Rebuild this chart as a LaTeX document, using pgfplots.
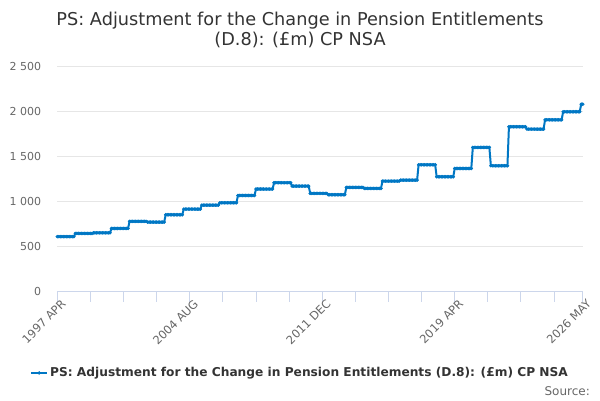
\documentclass[border=0pt]{standalone}
\usepackage{pgfplots}
\pgfplotsset{compat=1.18}
\usepackage{fontspec}
\setmainfont{DejaVu Sans}
\definecolor{lineblue}{HTML}{0077C4}
\definecolor{axisgray}{HTML}{CCD6EB}
\definecolor{gridgray}{HTML}{E6E6E6}
\definecolor{labelgray}{HTML}{666666}
\definecolor{titlegray}{HTML}{333333}
\begin{document}
\begin{tikzpicture}[x=1pt,y=1pt]
\useasboundingbox (0,0) rectangle (600,400);
\node[anchor=base, font=\fontsize{17.7}{21}\selectfont, text=titlegray, inner sep=0pt] at (300,374.3) {PS: Adjustment for the Change in Pension Entitlements};
\node[anchor=base, font=\fontsize{17.7}{21}\selectfont, text=titlegray, inner sep=0pt] at (300,355) {(D.8): (£m) CP NSA};
\begin{axis}[
  at={(57.3pt,108.3pt)}, anchor=south west, scale only axis,
  width=525.4pt, height=225.7pt,
  xmin=0, xmax=349, ymin=0, ymax=2500,
  clip=false,
  axis lines*=left,
  y axis line style={draw=none},
  x axis line style={draw=axisgray, line width=1pt},
  xtick={0,22,44,66,88,110,132,154,176,198,220,242,264,286,308,330,349},
  xticklabels={1997 APR,,,,2004 AUG,,,,2011 DEC,,,,2019 APR,,,,2026 MAY},
  tick align=outside,
  major tick length=10pt,
  xtick style={draw=axisgray, line width=1pt},
  ytick style={draw=none},
  xticklabel style={rotate=45, anchor=east, inner sep=0pt, font=\fontsize{11.5}{13}\selectfont, text=labelgray, xshift=4.5pt, yshift=-4.5pt},
  ytick={0,500,1000,1500,2000,2500},
  ymajorgrids,
  grid style={draw=gridgray, line width=1pt},
  yticklabel style={anchor=east, inner sep=0pt, font=\fontsize{11}{13}\selectfont, text=labelgray, xshift=-6pt},
  /pgf/number format/assume math mode=true,
  /pgf/number format/1000 sep={\ },
  legend style={at={(0.462,-0.36)}, anchor=center, draw=none, fill=none,
    font=\bfseries\fontsize{12.2}{14}\selectfont, text=titlegray},
  legend image code/.code={\draw[mark repeat=2,mark phase=2] plot coordinates {(0pt,0pt)(8pt,0pt)(16pt,0pt)};},
]
\addplot[lineblue, line width=2pt, mark=*, mark size=1.5pt, mark options={line width=0.5pt}] coordinates {
(0,610)(1,610)(2,610)(3,610)(4,610)(5,610)(6,610)(7,610)(8,610)(9,610)(10,610)(11,610)
(12,645)(13,645)(14,645)(15,645)(16,645)(17,645)(18,645)(19,645)(20,645)(21,645)(22,645)(23,645)
(24,652)(25,652)(26,652)(27,652)(28,652)(29,652)(30,652)(31,652)(32,652)(33,652)(34,652)(35,652)
(36,701)(37,701)(38,701)(39,701)(40,701)(41,701)(42,701)(43,701)(44,701)(45,701)(46,701)(47,701)
(48,779)(49,779)(50,779)(51,779)(52,779)(53,779)(54,779)(55,779)(56,779)(57,779)(58,779)(59,779)
(60,771)(61,771)(62,771)(63,771)(64,771)(65,771)(66,771)(67,771)(68,771)(69,771)(70,771)(71,771)
(72,852)(73,852)(74,852)(75,852)(76,852)(77,852)(78,852)(79,852)(80,852)(81,852)(82,852)(83,852)
(84,915)(85,915)(86,915)(87,915)(88,915)(89,915)(90,915)(91,915)(92,915)(93,915)(94,915)(95,915)
(96,959)(97,959)(98,959)(99,959)(100,959)(101,959)(102,959)(103,959)(104,959)(105,959)(106,959)(107,959)
(108,985)(109,985)(110,985)(111,985)(112,985)(113,985)(114,985)(115,985)(116,985)(117,985)(118,985)(119,985)
(120,1066)(121,1066)(122,1066)(123,1066)(124,1066)(125,1066)(126,1066)(127,1066)(128,1066)(129,1066)(130,1066)(131,1066)
(132,1137)(133,1137)(134,1137)(135,1137)(136,1137)(137,1137)(138,1137)(139,1137)(140,1137)(141,1137)(142,1137)(143,1137)
(144,1207)(145,1207)(146,1207)(147,1207)(148,1207)(149,1207)(150,1207)(151,1207)(152,1207)(153,1207)(154,1207)(155,1207)
(156,1170)(157,1170)(158,1170)(159,1170)(160,1170)(161,1170)(162,1170)(163,1170)(164,1170)(165,1170)(166,1170)(167,1170)
(168,1089)(169,1089)(170,1089)(171,1089)(172,1089)(173,1089)(174,1089)(175,1089)(176,1089)(177,1089)(178,1089)(179,1089)
(180,1074)(181,1074)(182,1074)(183,1074)(184,1074)(185,1074)(186,1074)(187,1074)(188,1074)(189,1074)(190,1074)(191,1074)
(192,1155)(193,1155)(194,1155)(195,1155)(196,1155)(197,1155)(198,1155)(199,1155)(200,1155)(201,1155)(202,1155)(203,1155)
(204,1144)(205,1144)(206,1144)(207,1144)(208,1144)(209,1144)(210,1144)(211,1144)(212,1144)(213,1144)(214,1144)(215,1144)
(216,1225)(217,1225)(218,1225)(219,1225)(220,1225)(221,1225)(222,1225)(223,1225)(224,1225)(225,1225)(226,1225)(227,1225)
(228,1236)(229,1236)(230,1236)(231,1236)(232,1236)(233,1236)(234,1236)(235,1236)(236,1236)(237,1236)(238,1236)(239,1236)
(240,1406)(241,1406)(242,1406)(243,1406)(244,1406)(245,1406)(246,1406)(247,1406)(248,1406)(249,1406)(250,1406)(251,1406)
(252,1273)(253,1273)(254,1273)(255,1273)(256,1273)(257,1273)(258,1273)(259,1273)(260,1273)(261,1273)(262,1273)(263,1273)
(264,1365)(265,1365)(266,1365)(267,1365)(268,1365)(269,1365)(270,1365)(271,1365)(272,1365)(273,1365)(274,1365)(275,1365)
(276,1598)(277,1598)(278,1598)(279,1598)(280,1598)(281,1598)(282,1598)(283,1598)(284,1598)(285,1598)(286,1598)(287,1598)
(288,1395)(289,1395)(290,1395)(291,1395)(292,1395)(293,1395)(294,1395)(295,1395)(296,1395)(297,1395)(298,1395)(299,1395)
(300,1827)(301,1827)(302,1827)(303,1827)(304,1827)(305,1827)(306,1827)(307,1827)(308,1827)(309,1827)(310,1827)(311,1827)
(312,1801)(313,1801)(314,1801)(315,1801)(316,1801)(317,1801)(318,1801)(319,1801)(320,1801)(321,1801)(322,1801)(323,1801)
(324,1904)(325,1904)(326,1904)(327,1904)(328,1904)(329,1904)(330,1904)(331,1904)(332,1904)(333,1904)(334,1904)(335,1904)
(336,1993)(337,1993)(338,1993)(339,1993)(340,1993)(341,1993)(342,1993)(343,1993)(344,1993)(345,1993)(346,1993)(347,1993)
(348,2077)(349,2077)
};
\addlegendentry{PS: Adjustment for the Change in Pension Entitlements (D.8): (£m) CP NSA}
\end{axis}
\node[anchor=base east, font=\fontsize{12}{14}\selectfont, text=labelgray, inner sep=0pt] at (590,5) {Source:};
\end{tikzpicture}
\end{document}
